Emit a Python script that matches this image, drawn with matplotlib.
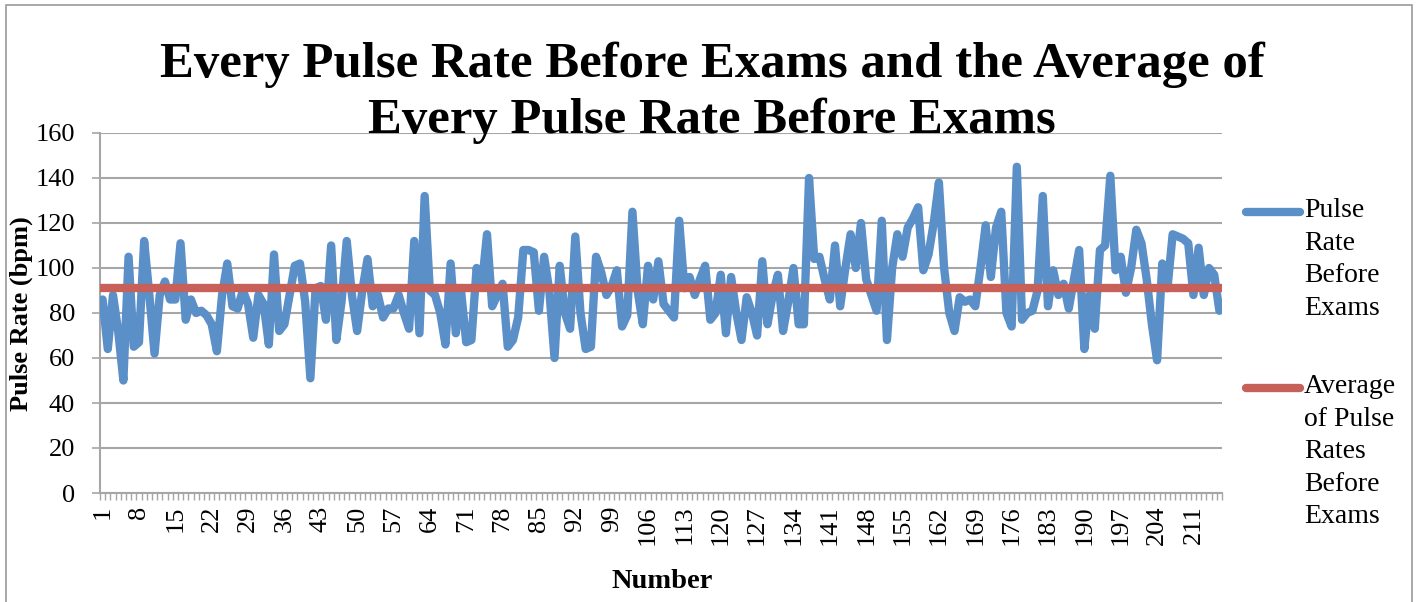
import matplotlib
matplotlib.use("Agg")
import matplotlib.pyplot as plt
from matplotlib.lines import Line2D
from matplotlib.patches import Rectangle
import numpy as np

pulse_before = [
    86, 64, 88, 72, 50, 105, 65, 67, 112, 88,
    62, 88, 94, 86, 86, 111, 77, 86, 80, 81,
    79, 75, 63, 88, 102, 83, 82, 90, 84, 69,
    88, 84, 66, 106, 72, 75, 88, 101, 102, 85,
    51, 91, 92, 77, 110, 68, 85, 112, 88, 72,
    90, 104, 83, 88, 78, 82, 82, 88, 80, 73,
    112, 71, 132, 90, 88, 80, 66, 102, 71, 90,
    67, 68, 100, 92, 115, 83, 88, 93, 65, 68,
    78, 108, 108, 107, 81, 105, 90, 60, 101, 80,
    73, 114, 80, 64, 65, 105, 98, 88, 92, 99,
    74, 79, 125, 90, 75, 101, 86, 103, 84, 81,
    78, 121, 91, 96, 88, 95, 101, 77, 80, 97,
    71, 96, 80, 68, 87, 80, 70, 103, 75, 88,
    97, 72, 85, 100, 75, 75, 140, 104, 105, 95,
    86, 110, 83, 100, 115, 100, 120, 95, 88, 81,
    121, 68, 100, 115, 105, 118, 122, 127, 99, 106,
    120, 138, 100, 80, 72, 87, 85, 86, 83, 100,
    119, 96, 118, 125, 80, 74, 145, 77, 80, 81,
    90, 132, 83, 99, 88, 93, 82, 95, 108, 64,
    88, 73, 108, 110, 141, 99, 105, 89, 100, 117,
    111, 95, 75, 59, 102, 91, 115, 114, 113, 111,
    88, 109, 88, 100, 97, 81,
]
average_before = 91
numbers = np.arange(1, len(pulse_before) + 1)

blue = "#5B8FC8"
red = "#C8605A"
grid_gray = "#A6A6A6"
serif = ["Liberation Serif", "DejaVu Serif"]

fig = plt.figure(figsize=(14.21, 6.02), dpi=100)
ax = fig.add_axes([100 / 1421, 1 - 493 / 602, 1122 / 1421, 360 / 602])

ax.plot(numbers, pulse_before, color=blue, lw=6, solid_joinstyle="round",
        solid_capstyle="round", zorder=3)
ax.plot(numbers, [average_before] * len(numbers), color=red, lw=6, zorder=4)

ax.set_xlim(0.5, len(pulse_before) + 0.5)
ax.set_ylim(0, 160)
ax.set_yticks(range(0, 161, 20))
ax.yaxis.grid(True, color=grid_gray, lw=1.5)
ax.set_axisbelow(True)

ax.set_xticks(numbers[::7])
ax.set_xticklabels([str(n) for n in numbers[::7]], rotation=90,
                   family=serif, fontsize=19)
ax.set_xticks(np.arange(0.5, len(pulse_before) + 1), minor=True)
ax.tick_params(axis="x", which="major", length=0, pad=9)
ax.tick_params(axis="x", which="minor", length=5, color=grid_gray, width=1)
ax.tick_params(axis="y", length=6, color=grid_gray, width=1.2, pad=12)
for lab in ax.get_yticklabels():
    lab.set_family(serif)
    lab.set_fontsize(19)

for side in ["top", "right"]:
    ax.spines[side].set_visible(False)
for side in ["left", "bottom"]:
    ax.spines[side].set_color(grid_gray)
    ax.spines[side].set_linewidth(1.5)

fig.text(0.501, 0.846,
         "Every Pulse Rate Before Exams and the Average of\nEvery Pulse Rate Before Exams",
         ha="center", va="center", family=serif, fontweight="bold",
         fontsize=36.5, linespacing=1.25)
fig.text(21 / 1421, 1 - 314 / 602, "Pulse Rate (bpm)", rotation=90,
         ha="center", va="center", family=serif, fontweight="bold", fontsize=19)
fig.text(662 / 1421, 1 - 582 / 602, "Number", ha="center", va="center",
         family=serif, fontweight="bold", fontsize=20.5)

# legend
fig.add_artist(Line2D([1246 / 1421, 1300 / 1421], [1 - 212 / 602] * 2,
                      color=blue, lw=6, solid_capstyle="round"))
fig.add_artist(Line2D([1246 / 1421, 1300 / 1421], [1 - 388 / 602] * 2,
                      color=red, lw=6, solid_capstyle="round"))
fig.text(1304 / 1421, 1 - 198 / 602, "Pulse\nRate\nBefore\nExams",
         ha="left", va="top", family=serif, fontsize=20, linespacing=1.4)
fig.text(1304 / 1421, 1 - 374 / 602, "Average\nof Pulse\nRates\nBefore\nExams",
         ha="left", va="top", family=serif, fontsize=20, linespacing=1.4)

fig.add_artist(Rectangle((6 / 1421, -0.01), 1406 / 1421, 1 - 5 / 602 + 0.01,
                         transform=fig.transFigure, fill=False,
                         edgecolor="#9A9A9A", lw=1.2))

fig.savefig("out.png", dpi=100)
